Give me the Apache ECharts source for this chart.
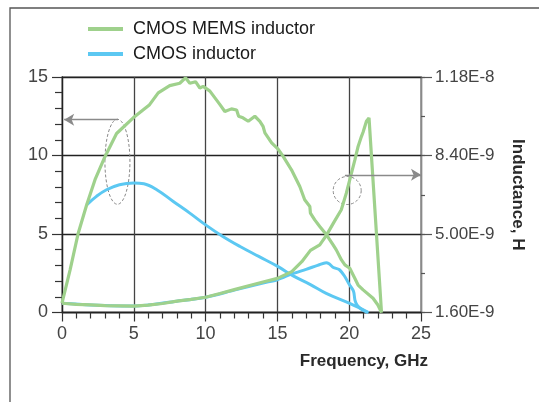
<!DOCTYPE html>
<html>
<head>
<meta charset="utf-8">
<script src="https://cdn.jsdelivr.net/npm/echarts@6/dist/echarts.min.js"></script>
<style>
  html, body { margin: 0; padding: 0; background: #fff; }
  #chart { width: 539px; height: 402px; }
</style>
</head>
<body>
<div id="chart"></div>
<script>
// Q factor (left axis), [GHz, Q]
const memsQ = [
  [0, 0.59], [0.56, 2.7], [1.13, 5.05], [1.72, 6.86], [2.3, 8.46], [3.0, 9.94],
  [3.8, 11.4], [4.96, 12.4], [6.1, 13.24], [6.7, 13.99], [7.5, 14.45], [8.2, 14.6],
  [8.6, 14.95], [8.9, 14.6], [9.3, 14.7], [9.6, 14.3], [9.83, 14.4], [10.3, 14.1],
  [11.0, 13.24], [11.34, 12.8], [11.8, 12.97], [12.16, 12.9], [12.3, 12.5], [12.6, 12.4],
  [12.97, 12.18], [13.43, 12.5], [13.78, 12.18], [14.0, 11.86], [14.13, 11.44], [14.6, 10.8],
  [15.05, 10.4], [15.4, 9.94], [15.98, 9.09], [16.56, 8.03], [16.9, 7.18], [17.26, 6.75],
  [17.3, 6.33], [17.6, 5.9], [17.95, 5.48], [18.42, 4.95], [18.88, 4.31], [19.1, 3.99],
  [19.46, 3.35], [19.7, 3.03], [20.04, 2.82], [20.39, 2.18], [20.62, 1.75], [20.97, 1.44],
  [21.66, 0.91], [22.0, 0.48], [22.25, 0]
];
const cmosQ = [
  [1.72, 6.86], [2.4, 7.4], [3.1, 7.82], [4.0, 8.14], [5.0, 8.25], [5.7, 8.2],
  [6.6, 7.82], [7.75, 7.07], [8.9, 6.33], [10, 5.58], [11.2, 4.84], [12.4, 4.2],
  [13.7, 3.57], [15.05, 2.92], [16.1, 2.33], [17.3, 1.78], [18.4, 1.22], [20.0, 0.59],
  [21.35, 0]
];
// Inductance (right axis), [GHz, H]
const memsL = [
  [0, 2.00e-9], [1, 1.95e-9], [2, 1.93e-9], [3, 1.90e-9], [4, 1.89e-9], [5, 1.88e-9],
  [6, 1.92e-9], [7, 1.99e-9], [8, 2.09e-9], [9, 2.17e-9], [10, 2.26e-9], [11, 2.42e-9],
  [12, 2.59e-9], [13, 2.76e-9], [14, 2.92e-9], [15, 3.08e-9], [16, 3.37e-9], [16.7, 3.80e-9],
  [17.3, 4.29e-9], [17.95, 4.53e-9], [18.4, 4.93e-9], [18.9, 5.47e-9], [19.45, 6.05e-9],
  [19.8, 6.77e-9], [20.05, 7.38e-9], [20.4, 8.22e-9], [20.62, 8.79e-9], [20.85, 9.22e-9],
  [20.97, 9.42e-9], [21.2, 9.88e-9], [21.38, 10.03e-9], [22.25, 1.60e-9]
];
const cmosL = [
  [0, 2.00e-9], [2, 1.93e-9], [5, 1.88e-9], [8, 2.09e-9], [10, 2.26e-9], [12, 2.57e-9],
  [14, 2.88e-9], [15, 3.02e-9], [16, 3.27e-9], [17, 3.47e-9], [17.8, 3.64e-9], [18.4, 3.76e-9],
  [18.6, 3.71e-9], [18.9, 3.55e-9], [19.3, 3.46e-9], [19.67, 3.18e-9], [20.0, 2.82e-9],
  [20.3, 2.52e-9], [20.4, 2.14e-9], [20.55, 1.92e-9], [20.9, 1.72e-9], [21.3, 1.60e-9]
];

const GREEN = '#9fd18c';
const BLUE = '#5cc8f2';
const FONT = 'Liberation Sans';

const chart = echarts.init(document.getElementById('chart'));

const option = {
  animation: false,
  textStyle: { fontFamily: FONT },
  legend: {
    orient: 'vertical',
    left: 88,
    top: 20,
    padding: 0,
    icon: 'rect',
    itemWidth: 35,
    itemHeight: 4,
    itemGap: 7,
    data: ['CMOS MEMS inductor', 'CMOS inductor'],
    textStyle: { fontSize: 18, color: '#1a1a1a', padding: [0, 0, 0, 5] }
  },
  grid: {
    left: 62, right: 118, top: 77, bottom: 89.5,
    show: true, borderColor: '#8a8a8a', borderWidth: 1.3
  },
  xAxis: {
    type: 'value', min: 0, max: 25, interval: 5,
    axisLine: { lineStyle: { color: '#222', width: 1.3 } },
    axisTick: { length: 9, lineStyle: { color: '#333', width: 1.2 } },
    minorTick: { show: true, splitNumber: 5, length: 6, lineStyle: { color: '#333', width: 1.2 } },
    splitLine: { show: true, lineStyle: { color: '#444', width: 1.3 } },
    axisLabel: { fontSize: 18, color: '#444', margin: 13 },
    name: 'Frequency, GHz',
    nameLocation: 'end',
    nameGap: 7,
    nameTextStyle: { fontSize: 17, fontWeight: 'bold', color: '#2a2a2a', align: 'right', verticalAlign: 'top', padding: [40, 0, 0, 0] }
  },
  yAxis: [
    {
      type: 'value', min: 0, max: 15, interval: 5,
      axisLine: { show: true, lineStyle: { color: '#222', width: 1.3 } },
      axisTick: { show: true, length: 10, lineStyle: { color: '#333', width: 1.2 } },
      minorTick: { show: true, splitNumber: 5, length: 7, lineStyle: { color: '#333', width: 1.2 } },
      splitLine: { show: true, lineStyle: { color: '#222', width: 1.3 } },
      axisLabel: { fontSize: 18, color: '#444', margin: 14 }
    },
    {
      type: 'value', position: 'right', min: 1.6e-9, max: 1.18e-8, interval: 1.7e-9,
      axisLine: { show: true, lineStyle: { color: '#8a8a8a', width: 1.3 } },
      axisTick: { show: true, length: 4, lineStyle: { color: '#555', width: 1.2 } },
      axisLabel: { show: false },
      splitLine: { show: false }
    },
    {
      type: 'value', position: 'right', min: 1.6e-9, max: 1.18e-8, interval: 3.4e-9,
      axisLine: { show: false },
      axisTick: { show: true, length: 11, lineStyle: { color: '#555', width: 1.2 } },
      splitLine: { show: false },
      axisLabel: {
        fontSize: 17, color: '#444', margin: 14,
        formatter: v => v.toExponential(2).toUpperCase()
      },
      name: 'Inductance, H',
      nameLocation: 'middle',
      nameRotate: -90,
      nameGap: 88,
      nameTextStyle: { fontSize: 17, fontWeight: 'bold', color: '#2a2a2a' }
    }
  ],
  series: [
    {
      name: 'CMOS inductor', type: 'line', yAxisIndex: 1, data: cmosL,
      symbol: 'none', smooth: 0.3, lineStyle: { color: BLUE, width: 3 }, itemStyle: { color: BLUE }
    },
    {
      name: 'CMOS inductor', type: 'line', yAxisIndex: 0, data: cmosQ,
      symbol: 'none', smooth: 0.4, lineStyle: { color: BLUE, width: 3 }, itemStyle: { color: BLUE }
    },
    {
      name: 'CMOS MEMS inductor', type: 'line', yAxisIndex: 1, data: memsL,
      symbol: 'none', lineStyle: { color: GREEN, width: 3.2 }, itemStyle: { color: GREEN }
    },
    {
      name: 'CMOS MEMS inductor', type: 'line', yAxisIndex: 0, data: memsQ,
      symbol: 'none', lineStyle: { color: GREEN, width: 3.2 }, itemStyle: { color: GREEN },
      markLine: {
        silent: true,
        symbol: ['none', 'arrow'],
        symbolSize: [9, 10],
        label: { show: false },
        lineStyle: { color: '#8a8a8a', width: 1.3, type: 'solid' },
        data: [
          [{ coord: [3.9, 12.28] }, { coord: [0.15, 12.28] }],
          [{ coord: [19.7, 8.77] }, { coord: [25, 8.77] }]
        ]
      }
    }
  ]
};

chart.setOption(option);

// dashed ellipse and circle marking which curves belong to which axis
const ell = chart.convertToPixel({ xAxisIndex: 0, yAxisIndex: 0 }, [3.86, 9.6]);
const cir = chart.convertToPixel({ xAxisIndex: 0, yAxisIndex: 0 }, [19.86, 7.77]);
chart.setOption({
  graphic: [
    {
      type: 'rect', shape: { x: 10, y: 8, width: 560, height: 420 },
      style: { fill: 'none', stroke: '#555', lineWidth: 1.3 }, silent: true
    },
    {
      type: 'ellipse', shape: { cx: ell[0], cy: ell[1], rx: 12.5, ry: 42.5 },
      style: { fill: 'none', stroke: '#888', lineWidth: 1, lineDash: [3, 2] }, silent: true
    },
    {
      type: 'circle', shape: { cx: cir[0], cy: cir[1], r: 14 },
      style: { fill: 'none', stroke: '#888', lineWidth: 1, lineDash: [3, 2] }, silent: true
    }
  ]
});
</script>
</body>
</html>
